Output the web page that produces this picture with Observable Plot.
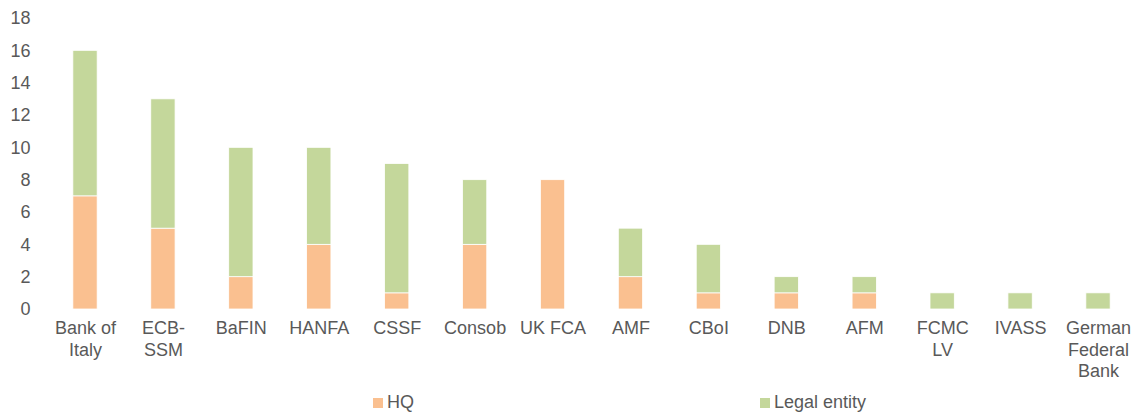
<!DOCTYPE html>
<html>
<head>
<meta charset="utf-8">
<script src="https://cdn.jsdelivr.net/npm/d3@7"></script>
<script src="https://cdn.jsdelivr.net/npm/@observablehq/plot@0.6"></script>
<style>
  body { margin: 0; background: #fff; font-family: "Liberation Sans", Arial, sans-serif; }
  #wrap { width: 1134px; }
  #legend { position: relative; height: 24px; width: 1134px; font-size: 18px; color: #595959; }
  #legend .item { position: absolute; top: 4px; display: flex; align-items: center; }
  #legend .sw { width: 10px; height: 10px; margin-right: 4px; }
</style>
</head>
<body>
<div id="wrap"></div>
<script>
const categories = ["Bank of Italy", "ECB-SSM", "BaFIN", "HANFA", "CSSF", "Consob", "UK FCA", "AMF", "CBoI", "DNB", "AFM", "FCMC LV", "IVASS", "German Federal Bank"];
const tickLabels = ["Bank of\nItaly", "ECB-\nSSM", "BaFIN", "HANFA", "CSSF", "Consob", "UK FCA", "AMF", "CBoI", "DNB", "AFM", "FCMC\nLV", "IVASS", "German\nFederal\nBank"];
const hqValues = [7, 5, 2, 4, 1, 4, 8, 2, 1, 1, 1, 0, 0, 0];
const legalEntityValues = [9, 8, 8, 6, 8, 4, 0, 3, 3, 1, 1, 1, 1, 1];
const seriesNames = ["HQ", "Legal entity"];
const seriesColors = ["#FAC090", "#C4D79B"];
const yTicks = [0, 2, 4, 6, 8, 10, 12, 14, 16, 18];

const rows = [];
categories.forEach((c, i) => {
  rows.push({category: c, series: seriesNames[0], value: hqValues[i]});
  rows.push({category: c, series: seriesNames[1], value: legalEntityValues[i]});
});
const labelOf = new Map(categories.map((c, i) => [c, tickLabels[i]]));

const chart = Plot.plot({
  width: 1134,
  height: 388,
  marginTop: 18,
  marginBottom: 79,
  marginLeft: 49,
  marginRight: 0,
  style: {fontFamily: '"Liberation Sans", Arial, sans-serif', fontSize: "18px", color: "#595959", background: "#fff"},
  x: {domain: categories, paddingInner: 0.688, paddingOuter: 0.306, round: false, label: null},
  y: {domain: [0, 18], label: null},
  color: {domain: seriesNames, range: seriesColors},
  marks: [
    Plot.barY(rows, Plot.stackY({x: "category", y: "value", fill: "series", order: seriesNames, stroke: "white", strokeWidth: 0.8})),
    Plot.axisX({tickSize: 0, tickPadding: 10, tickFormat: d => labelOf.get(d), lineHeight: 1.17, fontSize: 18, fill: "#595959", label: null}),
    Plot.axisY({ticks: yTicks, tickSize: 0, tickPadding: 19, fontSize: 18, fill: "#595959", label: null})
  ]
});
document.getElementById("wrap").appendChild(chart);

const legend = document.createElement("div");
legend.id = "legend";
const legendLeft = [373, 760];
seriesNames.forEach((s, i) => {
  const item = document.createElement("div");
  item.className = "item";
  item.style.left = legendLeft[i] + "px";
  const sw = document.createElement("span");
  sw.className = "sw";
  sw.style.background = seriesColors[i];
  const t = document.createElement("span");
  t.textContent = s;
  item.appendChild(sw);
  item.appendChild(t);
  legend.appendChild(item);
});
document.getElementById("wrap").appendChild(legend);
</script>
</body>
</html>
